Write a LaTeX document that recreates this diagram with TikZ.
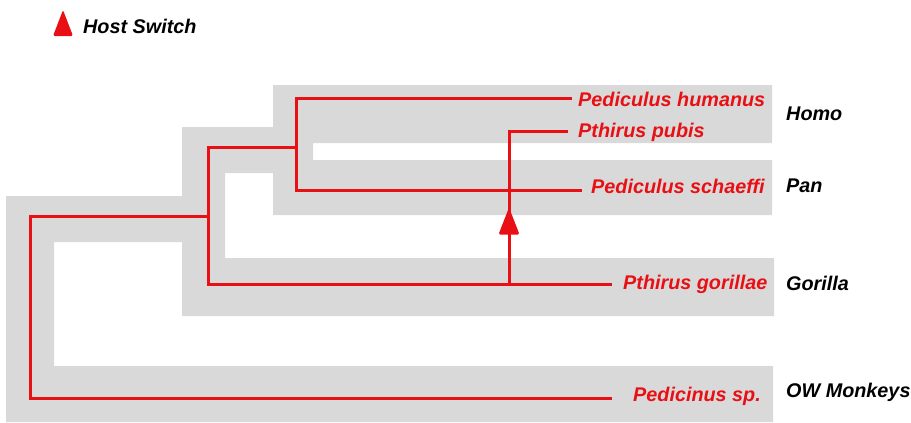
\documentclass[tikz,border=0pt]{standalone}
\usepackage{fontspec}
\setmainfont{Liberation Sans}
\usetikzlibrary{positioning}
\definecolor{lousered}{RGB}{232,16,20}
\definecolor{hostgray}{RGB}{217,217,217}

\begin{document}
\begin{tikzpicture}[x=1pt, y=-1pt, font=\fontsize{19.8}{23}\selectfont\bfseries\itshape,
    band/.style={fill=hostgray},
    branch/.style={draw=lousered, line width=3pt, line join=miter},
    louse/.style={text=lousered, anchor=base west, inner sep=0pt},
    host/.style={anchor=base west, inner sep=0pt},
    switch/.style={fill=lousered, rounded corners=1.5pt}]
  \useasboundingbox (0,0) rectangle (911,423);
  \fill[band] (6,196) -- (182,196) -- (182,242) -- (54,242) -- (54,366) -- (773,366) -- (773,422) -- (6,422) -- cycle;
  \fill[band] (182,127) -- (273,127) -- (273,173) -- (225,173) -- (225,258) -- (774,258) -- (774,316) -- (182,316) -- cycle;
  \fill[band] (273,85) -- (772,85) -- (772,143) -- (313,143) -- (313,160) -- (772,160) -- (772,215) -- (273,215) -- cycle;

  \coordinate (root) at (30,307);
  \coordinate (n2) at (208,216);
  \coordinate (n3) at (296,147);
  \coordinate (sw) at (509,284);
  \coordinate (hs) at (509,221);
  \coordinate (tHum) at (572,98);
  \coordinate (tPub) at (568,131);
  \coordinate (tSch) at (582,190);
  \coordinate (tGor) at (612,284);
  \coordinate (tPed) at (612,398);
  \coordinate (mark) at (63,23);

  \draw[branch] (n2) -| (root) |- (tPed);
  \draw[branch] (n3) -| (n2) |- (tGor);
  \draw[branch] (tHum) -| (n3) |- (tSch);
  \draw[branch] (sw) |- (tPub);
  \fill[switch] (hs) ++(-10.5,13.5) -- ++(10.5,-27) -- ++(10.5,27) -- cycle;
  \fill[switch] (mark) ++(-10,13) -- ++(10,-26) -- ++(10,26) -- cycle;

  \node[host] (key) at (83,33) {Host Switch};
  \node[louse] (lHum) at (578,106) {Pediculus humanus};
  \node[louse] (lPub) at (578,137) {Pthirus pubis};
  \node[louse] (lSch) at (591,193) {Pediculus schaeffi};
  \node[louse] (lGor) at (623,289) {Pthirus gorillae};
  \node[louse] (lPed) at (633,401) {Pedicinus sp.};
  \node[host] (homo) at (786,120) {Homo};
  \node[host] (pan) at (786,192) {Pan};
  \node[host] (gor) at (786,290) {Gorilla};
  \node[host] (ow) at (786,397) {OW Monkeys};
\end{tikzpicture}
\end{document}
